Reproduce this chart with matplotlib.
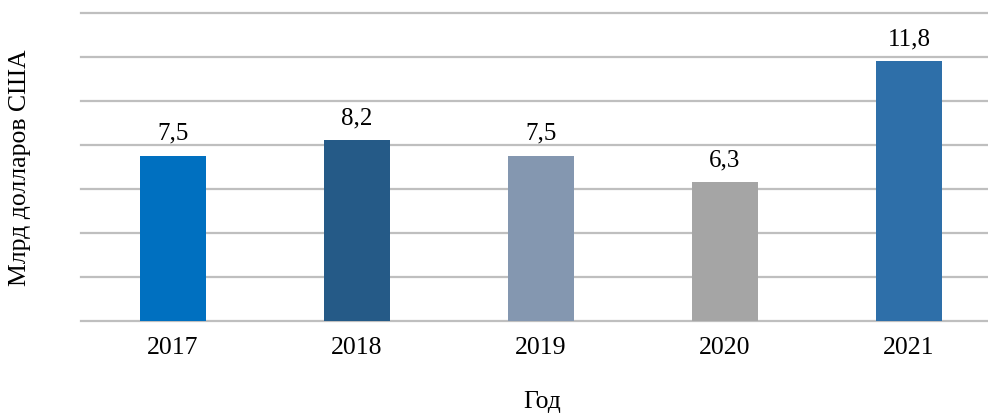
import numpy as np
import matplotlib.pyplot as plt

years = ["2017", "2018", "2019", "2020", "2021"]
values = [7.5, 8.2, 7.5, 6.3, 11.8]
labels = ["7,5", "8,2", "7,5", "6,3", "11,8"]
colors = ["#0070C0", "#255A87", "#8497B0", "#A5A5A5", "#2E6FA9"]

plt.rcParams['font.family'] = ['Liberation Serif', 'DejaVu Serif']

fig = plt.figure(figsize=(9.88, 4.14), dpi=100)
ax = fig.add_axes([81 / 988, 92.3 / 414, 907 / 988, 307.7 / 414])

x = np.arange(len(years))
bars = ax.bar(x, values, width=0.36, color=colors, zorder=3)

for b, lab in zip(bars, labels):
    ax.text(b.get_x() + b.get_width() / 2, b.get_height() + 0.77, lab,
            ha="center", va="baseline", fontsize=18, color="#000000")

ax.set_ylim(0, 14)
ax.set_xlim(-0.5, 4.43)
ax.set_yticks(np.arange(0, 15, 2))
ax.set_yticklabels([])
ax.yaxis.grid(True, color="#BFBFBF", linewidth=1.6, zorder=0)
for gl in ax.get_ygridlines():
    gl.set_clip_on(False)
ax.tick_params(axis="y", length=0)
ax.set_xticks(x)
ax.set_xticklabels(years, fontsize=18.5)
ax.tick_params(axis="x", length=0, pad=11)
for s in ax.spines.values():
    s.set_visible(False)

# axis titles placed in figure pixels to match the original layout
fig.text(542 / 988, 6 / 414, "Год", ha="center", va="baseline", fontsize=18.5)
fig.text(20 / 988, 1 - 168 / 414, "Млрд долларов США", rotation=90,
         ha="center", va="center", fontsize=18.5)

fig.savefig("out.png", dpi=100)
